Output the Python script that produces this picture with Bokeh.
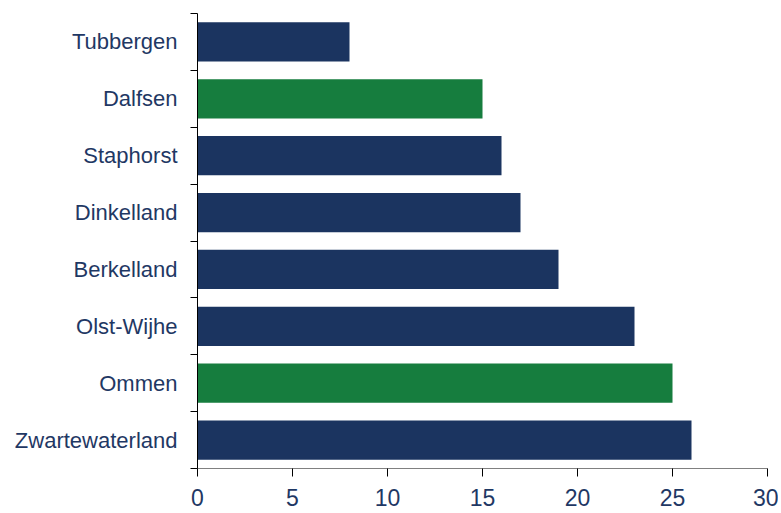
from bokeh.plotting import figure
from bokeh.models import FixedTicker, Range1d
from bokeh.embed import file_html
from bokeh.resources import INLINE

categories = ["Tubbergen", "Dalfsen", "Staphorst", "Dinkelland", "Berkelland",
              "Olst-Wijhe", "Ommen", "Zwartewaterland"]
values = [8, 15, 16, 17, 19, 23, 25, 26]
highlight = [False, True, False, False, False, False, True, False]
x_ticks = [0, 5, 10, 15, 20, 25, 30]

NAVY = "#1B3460"
GREEN = "#167D3E"
TEXT = "#1F3864"

n = len(categories)
ypos = [n - 1 - i for i in range(n)]
colors = [GREEN if h else NAVY for h in highlight]

p = figure(width=778, height=510, output_backend="svg", toolbar_location=None,
           x_range=Range1d(0, 30), y_range=Range1d(-0.5, n - 0.5),
           min_border_left=197, min_border_right=11, min_border_top=13,
           min_border_bottom=42)
p.outline_line_color = None
p.xgrid.visible = False
p.ygrid.visible = False
p.background_fill_color = "white"

p.hbar(y=ypos, right=values, left=0, height=0.69, fill_color=colors, line_color=None)

# y axis
p.yaxis.ticker = FixedTicker(ticks=ypos, minor_ticks=[k - 0.5 for k in range(n + 1)])
p.yaxis.major_label_overrides = {y: c for y, c in zip(ypos, categories)}
p.yaxis.major_tick_line_color = None
p.yaxis.major_tick_out = 0
p.yaxis.major_tick_in = 0
p.yaxis.minor_tick_out = 7
p.yaxis.minor_tick_in = 0
p.yaxis.minor_tick_line_color = "black"
p.yaxis.axis_line_color = "black"
p.yaxis.major_label_text_font = "Liberation Sans"
p.yaxis.major_label_text_font_size = "22px"
p.yaxis.major_label_text_color = TEXT
p.yaxis.major_label_standoff = 13

# x axis
p.xaxis.ticker = FixedTicker(ticks=x_ticks)
p.xaxis.axis_line_color = "#808080"
p.xaxis.major_tick_line_color = "black"
p.xaxis.major_tick_out = 8
p.xaxis.major_tick_in = 0
p.xaxis.minor_tick_line_color = None
p.xaxis.major_label_text_font = "Liberation Sans"
p.xaxis.major_label_text_font_size = "23px"
p.xaxis.major_label_text_color = TEXT
p.xaxis.major_label_standoff = 12

open("out.html", "w").write(file_html(p, INLINE))
